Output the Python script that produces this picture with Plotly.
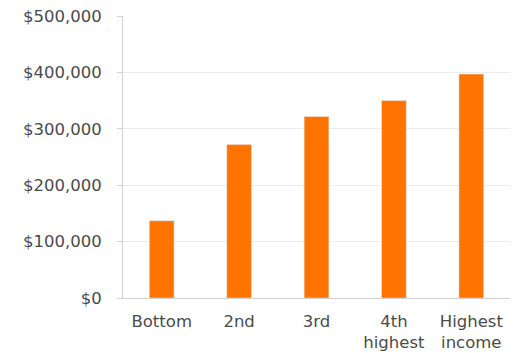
import plotly.graph_objects as go

categories = ["Bottom", "2nd", "3rd", "4th<br>highest", "Highest<br>income"]
values = [137000, 272000, 322000, 350000, 397000]
tick_vals = [0, 100000, 200000, 300000, 400000, 500000]
tick_text = ["$0", "$100,000", "$200,000", "$300,000", "$400,000", "$500,000"]

fig = go.Figure(go.Bar(x=categories, y=values, marker_color="#FF7300", width=0.32))

fig.update_layout(
    width=518, height=353,
    margin=dict(l=123, r=8, t=16, b=55),
    plot_bgcolor="white", paper_bgcolor="white",
    font=dict(family="DejaVu Sans", size=16.5, color="#4a4a4a"),
    showlegend=False,
)
fig.update_xaxes(
    showline=True, linecolor="#d0d0d0", linewidth=1,
    ticks="", showgrid=False, range=[-0.5, 4.5],
    ticklabelstandoff=8, automargin=False,
)
fig.update_yaxes(
    range=[0, 500000], tickvals=tick_vals, ticktext=tick_text,
    showline=True, linecolor="#d0d0d0", linewidth=1,
    ticks="outside", ticklen=5, tickcolor="#d0d0d0",
    showgrid=True, gridcolor="#ececec", zeroline=False,
    ticklabelstandoff=12, automargin=False,
)
fig.write_html("out.html")
